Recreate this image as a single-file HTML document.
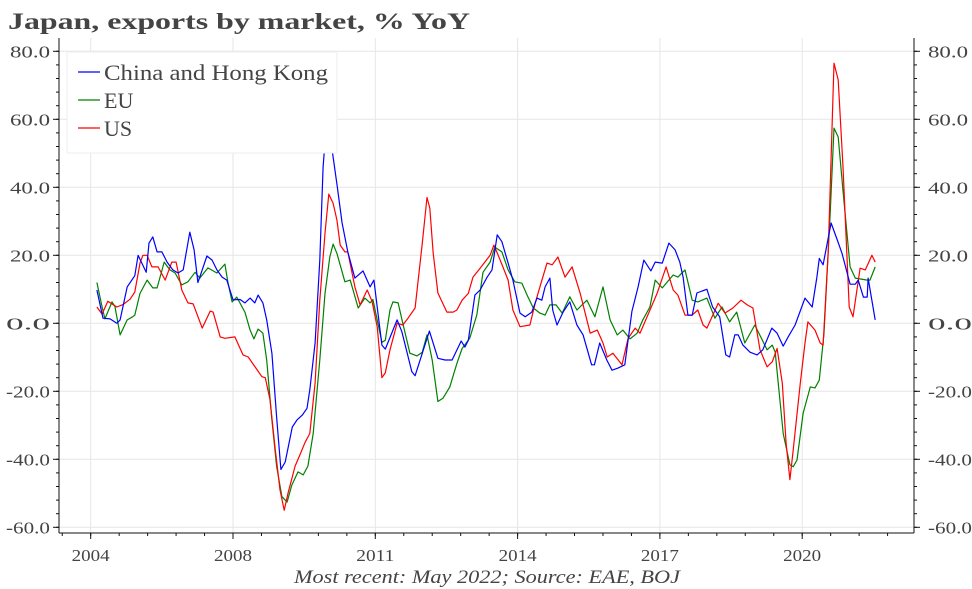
<!DOCTYPE html>
<html><head><meta charset="utf-8"><style>
html,body{margin:0;padding:0;background:#fff;}
svg{display:block;}
text{font-family:"Liberation Serif",serif;fill:#444;}
</style></head><body>
<svg id="chart" width="972" height="589" viewBox="0 0 972 589" xmlns="http://www.w3.org/2000/svg">
<text x="8" y="29" font-size="23" font-weight="bold" textLength="462" lengthAdjust="spacingAndGlyphs">Japan, exports by market, % YoY</text>
<g id="grid"></g>
<g id="axes"></g>
<g id="series"></g>
<g>
<rect x="67" y="52" width="270" height="101" fill="#fff" stroke="#eee"/>
<line x1="78" y1="72" x2="100" y2="72" stroke="#0000ff" stroke-width="1.3"/>
<text x="104" y="80" font-size="22" textLength="224" lengthAdjust="spacingAndGlyphs">China and Hong Kong</text>
<line x1="78" y1="100" x2="100" y2="100" stroke="#008000" stroke-width="1.3"/>
<text x="104" y="108" font-size="22">EU</text>
<line x1="78" y1="128" x2="100" y2="128" stroke="#ff0000" stroke-width="1.3"/>
<text x="104" y="136" font-size="22">US</text>
</g>
<text x="487" y="583" font-size="19" font-style="italic" text-anchor="middle" textLength="386" lengthAdjust="spacingAndGlyphs">Most recent: May 2022; Source: EAE, BOJ</text>
</svg>
<script>
const yTicks = [80, 60, 40, 20, 0, -20, -40, -60];
const xTickValues = [2005, 2008, 2011, 2014, 2017, 2020];
const xTickLabels = ["2004", "2008", "2011", "2014", "2017", "2020"];

const chinaDates = [2005.13,2005.26,2005.41,2005.55,2005.62,2005.77,2005.93,2006.00,2006.17,2006.23,2006.31,2006.40,2006.50,2006.61,2006.73,2006.84,2006.95,2007.09,2007.18,2007.26,2007.35,2007.45,2007.56,2007.66,2007.77,2007.87,2008.00,2008.15,2008.25,2008.36,2008.46,2008.53,2008.63,2008.71,2008.82,2008.92,2009.01,2009.10,2009.25,2009.35,2009.46,2009.56,2009.62,2009.73,2009.83,2009.90,2009.98,2010.09,2010.19,2010.30,2010.42,2010.57,2010.74,2010.89,2010.97,2011.14,2011.21,2011.46,2011.56,2011.77,2011.84,2011.99,2012.14,2012.32,2012.47,2012.62,2012.81,2012.89,2012.96,2013.10,2013.21,2013.36,2013.46,2013.57,2013.67,2013.80,2013.90,2014.05,2014.16,2014.30,2014.41,2014.51,2014.58,2014.68,2014.74,2014.83,2014.96,2015.10,2015.25,2015.38,2015.56,2015.62,2015.73,2015.88,2015.99,2016.11,2016.26,2016.41,2016.54,2016.66,2016.81,2016.90,2017.05,2017.19,2017.32,2017.42,2017.49,2017.59,2017.68,2017.78,2017.89,2017.99,2018.11,2018.26,2018.39,2018.47,2018.58,2018.65,2018.75,2018.90,2019.05,2019.17,2019.36,2019.47,2019.60,2019.70,2019.85,2020.06,2020.21,2020.31,2020.36,2020.44,2020.61,2020.74,2020.84,2021.01,2021.12,2021.18,2021.29,2021.37,2021.39,2021.54];
const chinaValues = [9.8,1.5,1.3,0,1,10.7,14,20,15,23.6,25.4,21,21,18,15.7,14.8,15.7,26.8,21.6,12,15.7,19.8,18.6,15.7,13.6,12.7,6.9,7,6,7.4,6,8.3,6,1,-8.8,-27.5,-43,-40.8,-30.5,-28.4,-27,-25,-19.6,-5.8,18.6,46,60.6,51,41,29.5,21,13.3,15.4,10.7,12.7,-6.4,-7.6,1,-2.5,-14.2,-15.4,-8.8,-2.3,-10.3,-10.8,-10.8,-5.2,-7,-5,8.3,9.8,13.6,15.7,26,24,17.7,12.7,3,1.9,3.3,7.4,6.8,10.7,13.3,3.9,-0.5,3.3,6.3,-0.5,-3.4,-12.2,-12.2,-5.8,-10.8,-13.8,-13.2,-12.2,3.5,10.7,18.6,15.4,18,17.7,23.6,21.6,18,13.6,2.4,2.4,8.9,9.5,10,4.8,1.9,-9.3,-9.9,-3.4,-3.4,-6.4,-8.5,-9.3,-7.8,-1.4,-2.9,-6.7,-4.1,-0.5,7.4,4.8,13.6,19.1,17.2,29.5,24.5,20.6,11.5,11.5,12.7,7.7,7.7,13.3,1];

const euDates = [2005.13,2005.24,2005.30,2005.45,2005.51,2005.62,2005.77,2005.87,2005.93,2006.04,2006.19,2006.31,2006.40,2006.55,2006.67,2006.78,2006.92,2007.05,2007.20,2007.30,2007.47,2007.66,2007.83,2007.89,2007.98,2008.08,2008.25,2008.36,2008.44,2008.53,2008.63,2008.71,2008.82,2008.92,2009.03,2009.14,2009.24,2009.37,2009.48,2009.58,2009.69,2009.83,2009.94,2010.04,2010.11,2010.19,2010.36,2010.47,2010.64,2010.78,2010.89,2010.95,2011.14,2011.21,2011.31,2011.37,2011.48,2011.58,2011.73,2011.88,2011.99,2012.09,2012.20,2012.32,2012.43,2012.57,2012.72,2012.83,2012.99,2013.14,2013.27,2013.42,2013.52,2013.67,2013.80,2013.94,2014.09,2014.20,2014.33,2014.47,2014.58,2014.68,2014.81,2014.94,2015.10,2015.25,2015.46,2015.63,2015.80,2015.95,2016.10,2016.22,2016.37,2016.52,2016.64,2016.79,2016.90,2017.05,2017.28,2017.38,2017.53,2017.68,2017.80,2017.99,2018.16,2018.31,2018.47,2018.62,2018.79,2019.00,2019.26,2019.37,2019.43,2019.60,2019.74,2019.81,2019.89,2020.02,2020.17,2020.27,2020.36,2020.46,2020.59,2020.67,2020.76,2020.86,2021.01,2021.12,2021.37,2021.43,2021.54];
const euValues = [12,4.8,1.3,6.3,5,-3.4,1,1.8,2.4,8.8,12.7,10.4,10.4,18,15.7,14.8,11.3,12.2,15,13.3,16.3,14.8,17.4,12.2,6.3,7.7,3.3,-2,-4.6,-1.7,-2.9,-10.8,-28.4,-42,-51,-52.6,-47.6,-43.7,-44.6,-42,-32.4,-10.8,8.8,19.5,23.3,20.6,12.2,12.7,4.5,7.4,6,7,-5.6,-5,3.9,6.3,6,0,-8.8,-9.6,-8.5,-3.4,-10.8,-23,-22,-18.7,-11.8,-7.4,-4.4,2.4,15,18,22.4,21,15.7,12.2,11.8,8.3,4.5,3,2.4,5.4,5.4,3,7.8,3.9,6.8,1.9,10.7,1,-3.4,-2,-4.6,-2.9,1,4.8,12.7,10.4,14.2,13.6,15.7,6.8,6.3,7.4,1.5,4.8,0.4,3.3,-5.8,-0.5,-7.8,-6.4,-8.5,-32.4,-41.6,-42.2,-40.2,-26.5,-18.7,-19,-16.7,-2.9,32.4,57.4,54.8,39,16.6,13.3,12.7,12.7,16.6];

const usDates = [2005.13,2005.24,2005.36,2005.55,2005.68,2005.83,2005.93,2006.04,2006.10,2006.19,2006.29,2006.42,2006.57,2006.71,2006.80,2006.92,2007.05,2007.16,2007.35,2007.52,2007.58,2007.73,2007.83,2008.04,2008.21,2008.32,2008.46,2008.61,2008.68,2008.78,2008.89,2008.99,2009.08,2009.16,2009.31,2009.41,2009.52,2009.62,2009.73,2009.83,2009.94,2010.02,2010.11,2010.19,2010.26,2010.36,2010.42,2010.57,2010.68,2010.83,2010.93,2011.04,2011.14,2011.21,2011.31,2011.46,2011.58,2011.69,2011.84,2011.99,2012.09,2012.15,2012.22,2012.32,2012.51,2012.64,2012.72,2012.83,2012.96,2013.06,2013.21,2013.42,2013.50,2013.59,2013.69,2013.80,2013.90,2014.05,2014.26,2014.37,2014.47,2014.62,2014.73,2014.85,2015.00,2015.15,2015.32,2015.53,2015.68,2015.80,2015.89,2016.01,2016.20,2016.33,2016.48,2016.58,2016.73,2016.94,2017.13,2017.28,2017.38,2017.53,2017.68,2017.80,2017.91,2017.99,2018.23,2018.37,2018.54,2018.71,2018.84,2018.96,2019.11,2019.26,2019.37,2019.47,2019.58,2019.66,2019.74,2019.81,2019.96,2020.06,2020.12,2020.27,2020.38,2020.44,2020.55,2020.67,2020.76,2020.86,2020.99,2021.07,2021.22,2021.33,2021.47,2021.54];
const usValues = [4.8,2.7,6.5,4.8,5.5,7.1,9.2,17.7,20,20,16.6,16.6,12.7,18,18,9.8,6,5.7,-1.4,3.6,3.3,-4,-4.4,-4,-9.3,-9.9,-12.7,-15.7,-16,-22.5,-37,-49,-55,-50,-42,-38.7,-35,-32.4,-17.6,6.8,26.5,38,35.3,30.4,23,21,21,10.7,5.4,9.8,6.5,-1,-16,-14.6,-7.8,0,-0.5,1.5,4.5,23.6,37,33.9,20.6,8.9,3.3,3.3,3.9,6.8,8.8,13.6,16.2,20,23,20,16.6,12.7,3.9,-1,-0.5,5.9,10.7,17.7,17.2,19.5,13.6,16.6,8.8,-2.9,-2,-5.8,-9.9,-8.8,-12.2,-4.4,-1.4,-2.9,1.9,8.8,16.6,9.8,8.3,2.4,2.4,3.9,-0.5,-1.4,5.9,3,4.5,6.8,5.4,4.5,-7.8,-12.8,-11.3,-7.4,-17.6,-35.3,-46,-37.3,-17.6,-5.8,0.4,-2,-5.8,-6.4,21.6,76.5,71.6,46,4.8,1.9,16.2,15.7,20,18];

const NS = "http://www.w3.org/2000/svg";
const L = 59, R = 914, T = 38, B = 533;
function xScale(t) { return 90.7 + (t - 2005) * (142.3 / 3); }
function yScale(v) { return 323.3 - v * 3.4; }
function mk(tag, attrs, parent) {
  const el = document.createElementNS(NS, tag);
  for (const k in attrs) el.setAttribute(k, attrs[k]);
  parent.appendChild(el);
  return el;
}
const grid = document.getElementById('grid');
const axes = document.getElementById('axes');
const series = document.getElementById('series');

yTicks.forEach(v => {
  const y = yScale(v);
  const g = mk('line', {x1: L, x2: R, y1: y, y2: y, stroke: '#e6e6e6', 'stroke-width': 1}, grid);
  
  
  const txt = v.toFixed(1);
  const w = txt.length === 4 ? 40 : 44;
  const lab = mk('text', {x: 50 - w, y: y + 6, 'font-size': 17, textLength: w, lengthAdjust: 'spacingAndGlyphs'}, axes);
  lab.textContent = txt;
  
  
  const lab2 = mk('text', {x: 928, y: y + 6, 'font-size': 17, textLength: w, lengthAdjust: 'spacingAndGlyphs'}, axes);
  lab2.textContent = txt;
  
  
  const t1 = mk('line', {x1: L - 6, x2: L, y1: y, y2: y, stroke: '#111'}, axes);
  
  
  const t2 = mk('line', {x1: R, x2: R + 6, y1: y, y2: y, stroke: '#111'}, axes);
  
  
});
for (let v = -60; v <= 82; v += 4) {
  const y = yScale(v);
  const m1 = mk('line', {x1: L - 3, x2: L, y1: y, y2: y, stroke: '#111'}, axes);
  
  
  const m2 = mk('line', {x1: R, x2: R + 3, y1: y, y2: y, stroke: '#111'}, axes);
  
  
}
xTickValues.forEach((t, i) => {
  const x = xScale(t);
  const g = mk('line', {x1: x, x2: x, y1: T, y2: B, stroke: '#e6e6e6'}, grid);
  
  
  const tk = mk('line', {x1: x, x2: x, y1: B, y2: B + 6, stroke: '#111'}, axes);
  
  
  const lab = mk('text', {x: x - 19, y: 561, 'font-size': 17, textLength: 38, lengthAdjust: 'spacingAndGlyphs'}, axes);
  lab.textContent = xTickLabels[i];
  
  
});
for (let t = 2004.4; t < 2023; t += 0.6) {
  const x = xScale(t);
  if (x < L || x > R) continue;
  const m = mk('line', {x1: x, x2: x, y1: B, y2: B + 3, stroke: '#111'}, axes);
  
  
}
const la = mk('line', {x1: L, x2: L, y1: T, y2: B, stroke: '#111'}, axes);


const ra = mk('line', {x1: R, x2: R, y1: T, y2: B, stroke: '#111'}, axes);


const ba = mk('line', {x1: L, x2: R, y1: B, y2: B, stroke: '#111'}, axes);



function drawLine(dates, vals, color, name) {
  const d = dates.map((t, i) => (i ? 'L' : 'M') + xScale(t).toFixed(1) + ' ' + yScale(vals[i]).toFixed(1)).join(' ');
  const p = mk('path', {d: d, fill: 'none', stroke: color, 'stroke-width': 1.2, 'stroke-linejoin': 'round'}, series);
  
  
}
drawLine(euDates, euValues, '#008000', 'line-eu');
drawLine(usDates, usValues, '#ff0000', 'line-us');
drawLine(chinaDates, chinaValues, '#0000ff', 'line-china-hong-kong');
</script>
</body></html>
